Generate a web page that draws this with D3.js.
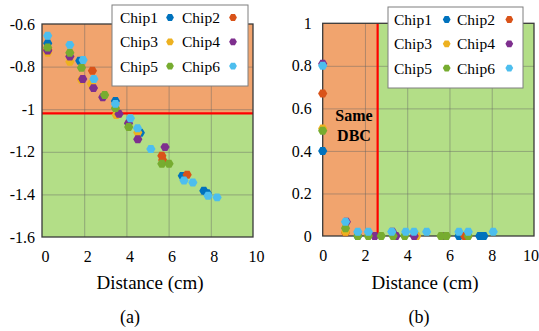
<!DOCTYPE html>
<html>
<head>
<meta charset="utf-8">
<script src="https://cdn.jsdelivr.net/npm/d3@7"></script>
<style>
  html, body { margin: 0; padding: 0; background: #fff; }
  svg { display: block; }
  svg text { font-family: "Liberation Serif", "Times New Roman", Times, "DejaVu Serif", serif !important; fill: #000; }
</style>
</head>
<body>
<div id="chart"></div>
<script>
// ---- data -------------------------------------------------------------
const chipNames = ["Chip1", "Chip2", "Chip3", "Chip4", "Chip5", "Chip6"];
const chipColors = ["#0072BD", "#D95319", "#EDB120", "#7E2F8E", "#77AC30", "#4DBEEE"];

// panel (a): [distance cm, score]
const chip1A = [[0.27,-0.69],[1.79,-0.773],[3.48,-0.961],[4.66,-1.111],[6.65,-1.313],[7.67,-1.383],[7.83,-1.394]];
const chip2A = [[0.27,-0.72],[2.39,-0.819],[3.6,-1.02],[5.68,-1.219],[5.72,-1.238],[6.88,-1.308]];
const chip3A = [[0.27,-0.735],[1.32,-0.777],[1.87,-0.862],[2.34,-0.881],[3.52,-1.027],[4.54,-1.109]];
const chip4A = [[0.27,-0.725],[1.32,-0.753],[1.93,-0.858],[2.44,-0.901],[2.88,-0.944],[3.65,-1.022],[4.1,-1.066],[4.54,-1.141],[5.83,-1.178]];
const chip5A = [[0.27,-0.71],[1.32,-0.735],[1.87,-0.805],[2.97,-0.933],[3.48,-0.995],[4.11,-1.084],[5.68,-1.256],[6.02,-1.256]];
const chip6A = [[0.27,-0.655],[1.32,-0.698],[1.95,-0.769],[2.46,-0.858],[3.48,-0.975],[4.19,-1.042],[4.53,-1.089],[5.16,-1.187],[6.73,-1.335],[7.15,-1.344],[7.87,-1.406],[8.30,-1.414]];

// panel (b): [distance cm, probability]
const chip1B = [[0,0.40],[1.66,0],[6.45,0],[7.43,0],[7.63,0]];
const chip2B = [[0,0.67],[1.08,0.017],[6.72,0]];
const chip3B = [[0,0.505],[1.08,0.02],[4.45,0]];
const chip4B = [[0,0.81],[1.12,0.067],[2.46,0],[3.3,0.02],[3.47,0],[4.33,0],[5.65,0]];
const chip5B = [[0,0.495],[1.08,0.036],[1.66,0],[2.16,0],[2.77,0],[3.33,0],[3.88,0],[5.6,0],[5.86,0],[6.89,0]];
const chip6B = [[0,0.80],[1.08,0.067],[1.66,0.02],[2.16,0.02],[3.27,0.02],[3.93,0.02],[4.32,0.02],[4.92,0.02],[6.45,0.02],[6.89,0.02],[8.07,0.02]];

const xTicks = [0, 2, 4, 6, 8, 10];
const yTicksA = [-0.6, -0.8, -1, -1.2, -1.4, -1.6];
const yTicksB = [0, 0.2, 0.4, 0.6, 0.8, 1];
const thresholdA = -1.02;   // horizontal split in (a)
const thresholdB = 2.6;     // vertical split in (b), cm

// ---- drawing ----------------------------------------------------------
const W = 539, H = 331;
const FONT = "'Liberation Serif', 'Times New Roman', Times, 'DejaVu Serif', serif";
const svg = d3.select("#chart").append("svg").attr("width", W).attr("height", H)
  .attr("font-family", FONT);
svg.append("rect").attr("width", W).attr("height", H).attr("fill", "#fff");

const ORANGE = "#F1A46E", GREEN = "#B3DE87";

const hexagon = r => d3.range(6).map(i => {
  const a = i * Math.PI / 3;
  return [r * Math.cos(a), r * Math.sin(a)];
});
const hexPath = r => "M" + hexagon(r).map(p => p.join(",")).join("L") + "Z";

function drawPanel(cfg) {
  const g = svg.append("g");
  const x = d3.scaleLinear().domain([0, 10]).range([cfg.left, cfg.right]);
  const y = d3.scaleLinear().domain(cfg.yDomain).range([cfg.bottom, cfg.top]);

  // coloured regions
  if (cfg.split === "h") {
    const ys = y(cfg.threshold);
    g.append("rect").attr("x", cfg.left).attr("y", cfg.top)
      .attr("width", cfg.right - cfg.left).attr("height", ys - cfg.top).attr("fill", ORANGE);
    g.append("rect").attr("x", cfg.left).attr("y", ys)
      .attr("width", cfg.right - cfg.left).attr("height", cfg.bottom - ys).attr("fill", GREEN);
  } else {
    const xs = x(cfg.threshold);
    g.append("rect").attr("x", cfg.left).attr("y", cfg.top)
      .attr("width", xs - cfg.left).attr("height", cfg.bottom - cfg.top).attr("fill", ORANGE);
    g.append("rect").attr("x", xs).attr("y", cfg.top)
      .attr("width", cfg.right - xs).attr("height", cfg.bottom - cfg.top).attr("fill", GREEN);
  }

  // grid
  const gridX = d3.axisBottom(x).tickValues(xTicks.slice(1, -1))
    .tickSize(-(cfg.bottom - cfg.top)).tickFormat("");
  g.append("g").attr("transform", `translate(0,${cfg.bottom})`).call(gridX)
    .call(s => s.select(".domain").remove())
    .selectAll("line").attr("stroke", "rgba(100,100,100,0.45)").attr("stroke-width", 1);
  const gridY = d3.axisLeft(y).tickValues(cfg.yTicks.slice(1, -1))
    .tickSize(-(cfg.right - cfg.left)).tickFormat("");
  g.append("g").attr("transform", `translate(${cfg.left},0)`).call(gridY)
    .call(s => s.select(".domain").remove())
    .selectAll("line").attr("stroke", "rgba(100,100,100,0.45)").attr("stroke-width", 1);

  // threshold line
  if (cfg.split === "h") {
    g.append("line").attr("x1", cfg.left).attr("x2", cfg.right)
      .attr("y1", y(cfg.threshold)).attr("y2", y(cfg.threshold))
      .attr("stroke", "#FF0000").attr("stroke-width", 2.2);
  } else {
    g.append("line").attr("y1", cfg.top).attr("y2", cfg.bottom)
      .attr("x1", x(cfg.threshold)).attr("x2", x(cfg.threshold))
      .attr("stroke", "#FF0000").attr("stroke-width", 2.2);
  }

  // frame
  g.append("rect").attr("x", cfg.left).attr("y", cfg.top)
    .attr("width", cfg.right - cfg.left).attr("height", cfg.bottom - cfg.top)
    .attr("fill", "none").attr("stroke", "#3a3a3a").attr("stroke-width", 1.3);

  // tick labels
  const axX = d3.axisBottom(x).tickValues(xTicks).tickSize(0).tickPadding(14)
    .tickFormat(d3.format("d"));
  const xl = g.append("g").attr("transform", `translate(0,${cfg.bottom})`).call(axX)
    .attr("font-family", FONT)
    .call(s => s.select(".domain").remove())
    .selectAll("text").attr("font-size", 16).attr("fill", "#000").attr("dx", cfg.xLabelDx);
  if (cfg.lastXEnd) {
    xl.filter(d => d === 10).attr("text-anchor", "end").attr("dx", 0)
      .attr("x", W - 0.5 - x(10));
  }
  const axY = d3.axisLeft(y).tickValues(cfg.yTicks).tickSize(0).tickPadding(cfg.yPad)
    .tickFormat(cfg.yFormat);
  g.append("g").attr("transform", `translate(${cfg.left},0)`).call(axY)
    .attr("font-family", FONT)
    .call(s => s.select(".domain").remove())
    .selectAll("text").attr("font-size", 16).attr("fill", "#000");

  // points
  cfg.series.forEach((pts, i) => {
    g.append("g").selectAll("path").data(pts).join("path")
      .attr("d", hexPath(4.6))
      .attr("transform", d => `translate(${x(d[0])},${y(d[1])})`)
      .attr("fill", chipColors[i]);
  });

  // axis title and caption
  g.append("text").attr("x", cfg.titleX).attr("y", 282).attr("text-anchor", "middle")
    .attr("dominant-baseline", "central").attr("font-size", 19).text("Distance (cm)");
  g.append("text").attr("x", cfg.capX).attr("y", 317).attr("text-anchor", "middle")
    .attr("dominant-baseline", "central").attr("font-size", 18).text(cfg.caption);

  // legend
  const L = cfg.legend;
  const lg = g.append("g").attr("transform", `translate(${L.x},${L.y})`);
  lg.append("rect").attr("width", L.w).attr("height", L.h)
    .attr("fill", "#fff").attr("stroke", "#7f7f7f").attr("stroke-width", 1);
  chipNames.forEach((name, i) => {
    const col = i % 2, row = Math.floor(i / 2);
    const cy = 12.5 + row * 24.3;
    lg.append("text").attr("x", L.textX[col]).attr("y", cy)
      .attr("dominant-baseline", "central").attr("font-size", 15.5).text(name);
    lg.append("path").attr("d", hexPath(3.9))
      .attr("transform", `translate(${L.dotX[col]},${cy})`).attr("fill", chipColors[i]);
  });
  return { x, y, g };
}

drawPanel({
  left: 42, right: 253, top: 24, bottom: 237,
  yDomain: [-1.6, -0.6], yTicks: yTicksA, yPad: 7,
  yFormat: d => d3.format("")(d).replace("\u2212", "-"),
  split: "h", threshold: thresholdA,
  series: [chip1A, chip2A, chip3A, chip4A, chip5A, chip6A],
  titleX: 150, capX: 130, caption: "(a)", xLabelDx: 3, lastXEnd: false,
  legend: { x: 112, y: 5, w: 136, h: 81, textX: [8, 70], dotX: [58, 121] }
});

const pb = drawPanel({
  left: 322.7, right: 534, top: 23.3, bottom: 236,
  yDomain: [0, 1], yTicks: yTicksB, yPad: 11,
  yFormat: d => d3.format("")(d),
  split: "v", threshold: thresholdB,
  series: [chip1B, chip2B, chip3B, chip4B, chip5B, chip6B],
  titleX: 425, capX: 419, caption: "(b)", xLabelDx: 0, lastXEnd: true,
  legend: { x: 388, y: 7, w: 135, h: 81, textX: [6, 69], dotX: [58.7, 121.3] }
});

// annotation inside the orange region of (b)
const note = pb.g.append("text").attr("x", 354).attr("text-anchor", "middle")
  .attr("font-size", 16).attr("font-weight", "bold");
note.append("tspan").attr("x", 354).attr("y", 121).text("Same");
note.append("tspan").attr("x", 354).attr("y", 141).text("DBC");
</script>
</body>
</html>
